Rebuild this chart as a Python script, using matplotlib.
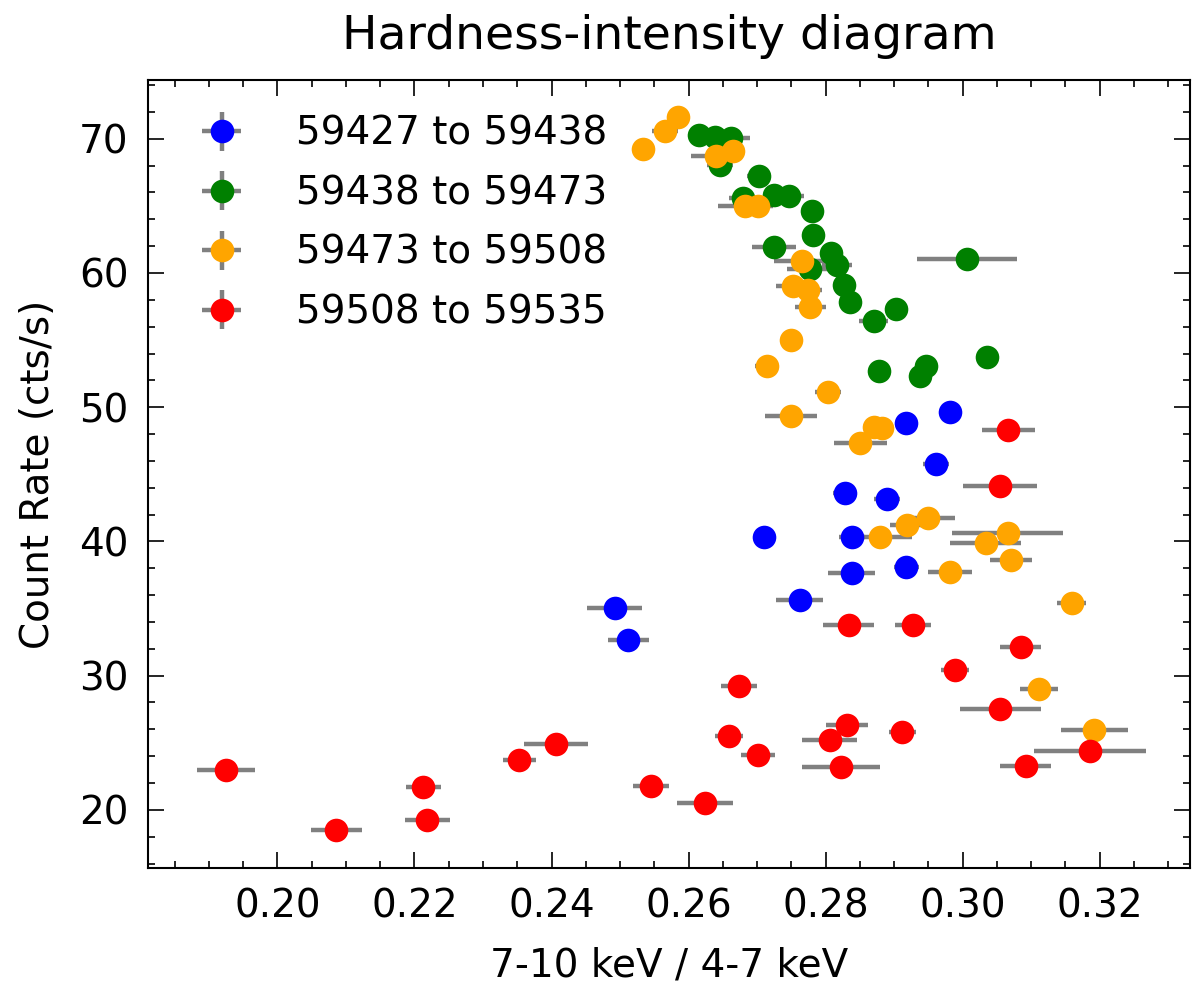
import matplotlib
matplotlib.use("Agg")
import matplotlib.pyplot as plt

# ---- data ----
labels = ["59427 to 59438", "59438 to 59473", "59473 to 59508", "59508 to 59535"]
colors = ["blue", "green", "orange", "red"]

blue_x = [0.2982, 0.2917, 0.2961, 0.2828, 0.2890, 0.2710, 0.2839, 0.2838, 0.2918, 0.2762, 0.2492, 0.2512]
blue_y = [49.68, 48.81, 45.76, 43.59, 43.17, 40.31, 40.31, 37.67, 38.07, 35.61, 35.02, 32.63]
blue_xerr = [0.0010, 0.0010, 0.0019, 0.0017, 0.0019, 0.0005, 0.0019, 0.0034, 0.0018, 0.0034, 0.0040, 0.0030]

green_x = [0.2615, 0.2639, 0.2662, 0.2646, 0.2703, 0.2680, 0.2725, 0.2747, 0.2780, 0.2781,
           0.2725, 0.2778, 0.2808, 0.2817, 0.2827, 0.2836, 0.2870, 0.2903, 0.3006, 0.2878,
           0.2938, 0.2947, 0.3036]
green_y = [70.26, 70.11, 70.07, 68.08, 67.20, 65.59, 65.84, 65.76, 64.59, 62.86,
           61.91, 60.32, 61.49, 60.62, 59.07, 57.84, 56.39, 57.29, 61.07, 52.71,
           52.36, 53.04, 53.76]
green_xerr = [0.0010, 0.0012, 0.0028, 0.0019, 0.0018, 0.0021, 0.0012, 0.0022, 0.0010, 0.0010,
              0.0032, 0.0034, 0.0012, 0.0022, 0.0010, 0.0010, 0.0021, 0.0010, 0.0073, 0.0008,
              0.0010, 0.0010, 0.0008]

orange_x = [0.2533, 0.2565, 0.2584, 0.2640, 0.2665, 0.2683, 0.2702, 0.2765, 0.2752, 0.2775,
            0.2778, 0.2749, 0.2714, 0.2804, 0.2749, 0.2870, 0.2883, 0.2851, 0.2950, 0.2919,
            0.2879, 0.3066, 0.3034, 0.3071, 0.2982, 0.3159, 0.3112, 0.3192]
orange_y = [69.25, 70.56, 71.63, 68.75, 69.12, 65.02, 65.02, 60.87, 59.05, 58.70,
            57.43, 55.03, 53.04, 51.15, 49.38, 48.49, 48.44, 47.32, 41.73, 41.25,
            40.36, 40.61, 39.91, 38.60, 37.70, 35.39, 28.98, 25.94]
orange_xerr = [0.0008, 0.0019, 0.0008, 0.0037, 0.0014, 0.0040, 0.0015, 0.0040, 0.0025, 0.0020,
               0.0022, 0.0008, 0.0017, 0.0019, 0.0038, 0.0015, 0.0015, 0.0038, 0.0039, 0.0025,
               0.0047, 0.0081, 0.0052, 0.0031, 0.0032, 0.0021, 0.0028, 0.0049]

red_x = [0.2834, 0.2928, 0.3085, 0.2989, 0.2674, 0.3055, 0.2659, 0.2831, 0.2806, 0.2912,
         0.2701, 0.2822, 0.3092, 0.3186, 0.2624, 0.1925, 0.2086, 0.2213, 0.2219, 0.2353,
         0.2407, 0.2545, 0.3067, 0.3054]
red_y = [33.75, 33.75, 32.11, 30.44, 29.20, 27.51, 25.52, 26.32, 25.22, 25.82,
         24.10, 23.16, 23.26, 24.38, 20.50, 22.96, 18.51, 21.69, 19.21, 23.73,
         24.88, 21.79, 48.31, 44.14]
red_xerr = [0.0037, 0.0026, 0.0030, 0.0021, 0.0026, 0.0059, 0.0020, 0.0031, 0.0040, 0.0020,
            0.0025, 0.0057, 0.0037, 0.0082, 0.0041, 0.0042, 0.0037, 0.0026, 0.0033, 0.0024,
            0.0047, 0.0026, 0.0039, 0.0054]

yerr_level = 0.4

groups = [(blue_x, blue_y, blue_xerr), (green_x, green_y, green_xerr),
          (orange_x, orange_y, orange_xerr), (red_x, red_y, red_xerr)]

plt.rcParams['font.family'] = ['DejaVu Sans']
plt.rcParams['xtick.direction'] = 'in'
plt.rcParams['ytick.direction'] = 'in'
plt.rcParams['xtick.top'] = True
plt.rcParams['ytick.right'] = True
plt.rcParams['xtick.minor.visible'] = True
plt.rcParams['ytick.minor.visible'] = True

fig = plt.figure(figsize=(12, 9.85), dpi=100)
ax = fig.add_axes([0.1233, 0.1188, 0.9917 - 0.1233, 0.9188 - 0.1188])

for (xs, ys, xe), col, lab in zip(groups, colors, labels):
    ax.errorbar(xs, ys, xerr=xe, yerr=[yerr_level] * len(ys), fmt='o', color=col,
                ecolor='gray', elinewidth=3.2, capsize=0, markersize=17,
                markeredgewidth=0, label=lab)

ax.set_xlim(0.1811, 0.3332)
ax.set_ylim(15.67, 74.38)
ax.set_xticks([0.20, 0.22, 0.24, 0.26, 0.28, 0.30, 0.32])
ax.set_yticks([20, 30, 40, 50, 60, 70])
ax.xaxis.set_major_formatter(matplotlib.ticker.FormatStrFormatter('%.2f'))
ax.xaxis.set_minor_locator(matplotlib.ticker.MultipleLocator(0.005))
ax.yaxis.set_minor_locator(matplotlib.ticker.MultipleLocator(2))

ax.tick_params(which='major', length=11.5, width=1.2, labelsize=28, pad=14)
ax.tick_params(which='minor', length=5.3, width=1.2)
for sp in ax.spines.values():
    sp.set_linewidth(1.5)

ax.set_xlabel('7-10 keV / 4-7 keV', fontsize=28, labelpad=15)
ax.set_ylabel('Count Rate (cts/s)', fontsize=28, labelpad=16)
ax.set_title('Hardness-intensity diagram', fontsize=34, pad=22)

ax.legend(loc='upper left', frameon=False, fontsize=28, labelspacing=0.55,
          handletextpad=0.9)

fig.savefig('out.png', dpi=100)
